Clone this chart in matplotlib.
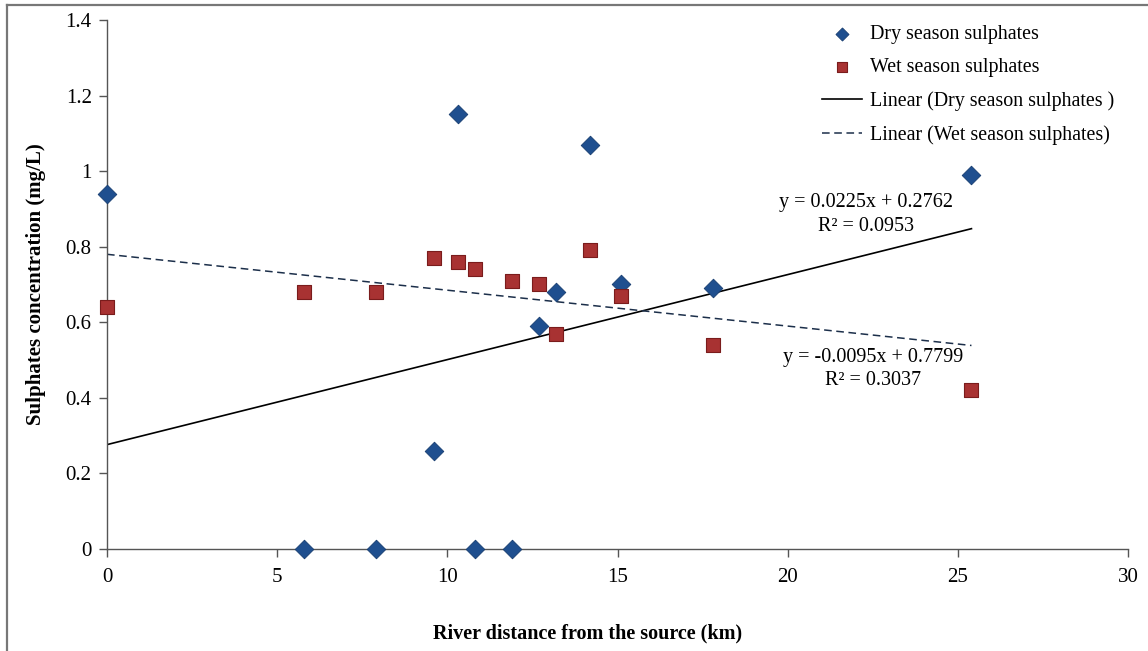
import matplotlib.pyplot as plt
import numpy as np

# River distance from the source (km)
dist_dry = [0, 5.8, 7.9, 9.6, 10.3, 10.8, 11.9, 12.7, 13.2, 14.2, 15.1, 17.8, 25.4]
dist_wet = [0, 5.8, 7.9, 9.6, 10.3, 10.8, 11.9, 12.7, 13.2, 14.2, 15.1, 17.8, 25.4]

# Sulphates concentration (mg/L)
so4_dry = [0.94, 0.0, 0.0, 0.26, 1.15, 0.0, 0.0, 0.59, 0.68, 1.07, 0.70, 0.69, 0.99]
so4_wet = [0.64, 0.68, 0.68, 0.77, 0.76, 0.74, 0.71, 0.70, 0.57, 0.79, 0.67, 0.54, 0.42]

# Linear trend coefficients (slope, intercept) and R^2
fit_dry = (0.0225, 0.2762, 0.0953)
fit_wet = (-0.0095, 0.7799, 0.3037)

plt.rcParams['font.family'] = ['Liberation Serif', 'DejaVu Serif']

fig = plt.figure(figsize=(11.48, 6.51), dpi=100)
ax = fig.add_axes([0.0932, 0.1567, 0.8894, 0.8126])

# outer frame
fig.add_artist(plt.Line2D([7/1148, 7/1148], [0, 1 - 5/651], transform=fig.transFigure,
                          color='#777777', lw=1.6))
fig.add_artist(plt.Line2D([7/1148, 1], [1 - 5/651, 1 - 5/651], transform=fig.transFigure,
                          color='#777777', lw=1.6))

ax.scatter(dist_dry, so4_dry, marker='D', s=90, color='#1f4f8f', edgecolors='#173d70',
           linewidths=0.6, label='Dry season sulphates', zorder=3, clip_on=False)
ax.scatter(dist_wet, so4_wet, marker='s', s=95, color='#a83232', edgecolors='#7a1c1c',
           linewidths=0.8, label='Wet season sulphates', zorder=3, clip_on=False)

xs = np.array([0, max(dist_dry)])
ax.plot(xs, fit_dry[0] * xs + fit_dry[1], color='black', lw=1.2,
        label='Linear (Dry season sulphates )')
ax.plot(xs, fit_wet[0] * xs + fit_wet[1], color='#1c2f4a', lw=1.1, ls=(0, (5, 3)),
        label='Linear (Wet season sulphates)')

ax.text(22.3, 0.916, 'y = %.4fx + %.4f' % fit_dry[:2], ha='center', va='center', fontsize=14.5)
ax.text(22.3, 0.853, 'R² = %.4f' % fit_dry[2], ha='center', va='center', fontsize=14.5)
ax.text(22.5, 0.508, 'y = %.4fx + %.4f' % fit_wet[:2], ha='center', va='center', fontsize=14.5)
ax.text(22.5, 0.446, 'R² = %.4f' % fit_wet[2], ha='center', va='center', fontsize=14.5)

ax.set_xlim(0, 30)
ax.set_ylim(0, 1.4)
ax.set_xticks(np.arange(0, 31, 5))
ax.set_yticks(np.arange(0, 1.41, 0.2))
ax.set_xticklabels(['0', '5', '10', '15', '20', '25', '30'])
ax.set_yticklabels(['0', '0.2', '0.4', '0.6', '0.8', '1', '1.2', '1.4'])
ax.tick_params(axis='both', labelsize=15, length=6, width=1, color='#555555', direction='out')
ax.tick_params(axis='x', pad=8)
ax.tick_params(axis='y', pad=5)

for side in ['top', 'right']:
    ax.spines[side].set_visible(False)
for side in ['left', 'bottom']:
    ax.spines[side].set_color('#555555')
    ax.spines[side].set_linewidth(1.0)

ax.set_xlabel('River distance from the source (km)', fontsize=14.5, fontweight='bold')
ax.xaxis.set_label_coords(0.471, -0.140)
ax.set_ylabel('Sulphates concentration (mg/L)', fontsize=15, fontweight='bold')
ax.yaxis.set_label_coords(-0.060, 0.5)

ax.legend(loc='upper right', bbox_to_anchor=(1.004, 1.025), frameon=False, fontsize=14.4,
          handlelength=2.0, handletextpad=0.4, labelspacing=0.72, markerscale=0.7)

plt.savefig('out.png', dpi=100)
